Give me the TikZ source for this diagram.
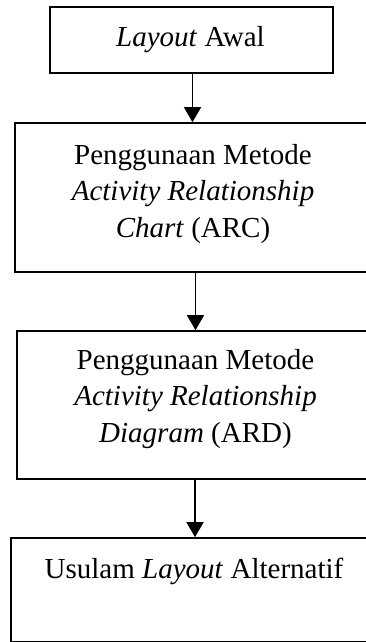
\documentclass[tikz,border=0pt]{standalone}
\usepackage{fontspec}
\setmainfont{Liberation Serif}
\usetikzlibrary{arrows.meta}
\begin{document}
\begin{tikzpicture}[x=1pt,y=-1pt,
  box/.style={draw,line width=1.6pt,inner sep=0pt},
  lbl/.style={font=\fontsize{29}{36.5}\selectfont,align=center,inner sep=0pt,anchor=base},
  flow/.style={line width=1.4pt,-{Triangle[width=17pt,length=15pt]}}]
\useasboundingbox (0,0) rectangle (366,642);
\clip (0,0) rectangle (366,642);
\node[box,minimum width=283pt,minimum height=66pt] (b1) at (191.5,40) {};
\node[box,minimum width=356pt,minimum height=149pt] (b2) at (193,197.5) {};
\node[box,minimum width=357pt,minimum height=148pt] (b3) at (195.5,405) {};
\node[box,minimum width=368pt,minimum height=104pt] (b4) at (195,590) {};
\node[lbl] (t1) at (190.5,47) {\textit{Layout} Awal};
\node[lbl] (t2) at (193,237) {Penggunaan Metode\\\textit{Activity Relationship}\\\textit{Chart} (ARC)};
\node[lbl] (t3) at (195.5,442) {Penggunaan Metode\\\textit{Activity Relationship}\\\textit{Diagram} (ARD)};
\node[lbl] (t4) at (194,578) {Usulam \textit{Layout} Alternatif};
\draw[flow] ([xshift=1pt]b1.south) -- ([xshift=1pt]b1.south |- b2.north);
\draw[flow] (b3.north |- b2.south) -- (b3.north);
\draw[flow] (b4.north |- b3.south) -- (b4.north);
\end{tikzpicture}
\end{document}
